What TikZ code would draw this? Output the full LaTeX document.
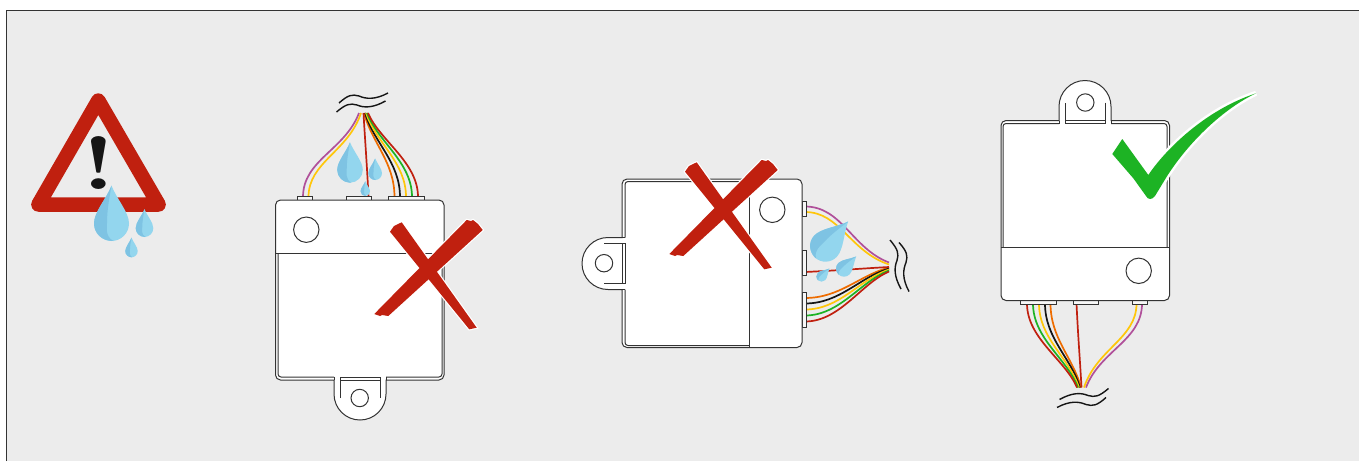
\documentclass[tikz,border=0pt]{standalone}
\usepackage{xcolor}
\usepackage{tikz}
\usetikzlibrary{calc}
\definecolor{panelgrey}{HTML}{ECECEC}
\definecolor{edgedark}{HTML}{333333}
\definecolor{signred}{HTML}{C0200F}
\definecolor{checkgreen}{HTML}{1DB324}
\definecolor{droplight}{HTML}{93D6EE}
\definecolor{dropdark}{HTML}{7EC3E3}
\definecolor{wirepurple}{HTML}{B0509A}
\definecolor{wireyellow}{HTML}{FFC60A}
\definecolor{wireorange}{HTML}{EE6C00}
\definecolor{wiregreen}{HTML}{1DB324}
\definecolor{wireblack}{HTML}{151515}

\begin{document}
\begin{tikzpicture}[
    x=1pt, y=-1pt,
    every node/.style={align=center},
    modline/.style={draw=edgedark, line width=1pt},
    wire/.style={line width=1.7pt},
    breakline/.style={draw=wireblack, line width=1.4pt},
    drop/.pic={
        \fill[droplight] (0,-21.6) .. controls (-3,-14) and (-10,-6.5) .. (-10,0)
            .. controls (-10,5.5) and (-5.5,10) .. (0,10)
            .. controls (5.5,10) and (10,5.5) .. (10,0)
            .. controls (10,-6.5) and (3,-14) .. cycle;
        \fill[dropdark] (0,-21.6) .. controls (-3,-14) and (-10,-6.5) .. (-10,0)
            .. controls (-10,5.5) and (-5.5,10) .. (1,10)
            .. controls (-4,7) and (-2.5,2) .. (-2.5,-2)
            .. controls (-2.5,-8) and (-1,-16) .. cycle;
    },
    module/.pic={
        \foreach \wirex/\lowy/\bendx/\bendy/\endx/\wirecol in {
            303/160/345/150/359/wirepurple,
            308.5/162/348/152/361/wireyellow,
            394.5/162/372/143/364/wireorange,
            400/162/374/143/365/wireblack,
            406/162/376/143/366/wireyellow,
            412/162/378/142/367/wiregreen,
            418/162/380/141/368/signred}
            \draw[wire, \wirecol] (\wirex,197) .. controls (\wirex,\lowy) and (\bendx,\bendy) .. (\endx,113);
        \draw[wire, signred] (368.5,197) .. controls (367,165) and (365,140) .. (363.5,113);
        \foreach \plugl/\plugr in {297.7/312.7, 346.7/371.7, 388.7/424.3}
            \draw[modline, fill=panelgrey!40] (\plugl,200) rectangle (\plugr,196);
        \draw[modline, fill=white] (334,394) -- (334,380) [rounded corners=5pt] -- (275.5,380) -- (275.5,200)
            -- (444,200) -- (444,380) [sharp corners] -- (386,380) -- (386,394)
            arc[start angle=0, end angle=-180, radius=26pt] -- cycle;
        \draw[draw=white, line width=1.4pt] (335,380) -- (339,380) (381,380) -- (385,380);
        \draw[modline, rounded corners=3pt] (334,377) -- (278,377) -- (278,253);
        \draw[modline, rounded corners=3pt] (442,253) -- (442,377) -- (386,377);
        \draw[modline] (275.5,253) -- (444,253);
        \draw[modline] (340,398) -- (340,377) -- (380,377) -- (380,398);
        \draw[modline] (340,380) -- (380,380);
        \draw[modline] (334,380) -- (334,377) (386,380) -- (386,377);
        \draw[modline] (306.3,229.7) circle[radius=12.7pt];
        \draw[modline] (359.7,398) circle[radius=8.7pt];
        \draw[breakline] (339,103) .. controls (348,95) and (352,94) .. (359,96)
            .. controls (366,99) and (375,100) .. (388,93);
        \draw[breakline] (336.5,112) .. controls (346,104) and (350,103) .. (357,105)
            .. controls (364,108) and (373,108) .. (385.5,101);
    },
    crossmark/.pic={
        \draw[white, line width=2.4pt] (466.7,220) -- (471,221) -- (473,220) -- (478,224) -- (482.7,230)
            -- (388.3,316) -- (382,315) -- (380,316) -- (374.3,314) -- cycle
            (390,231.7) -- (394,226) -- (401.7,222.3) -- (476.7,327.7) -- (469.3,329.3) -- cycle;
        \fill[signred] (466.7,220) -- (471,221) -- (473,220) -- (478,224) -- (482.7,230)
            -- (388.3,316) -- (382,315) -- (380,316) -- (374.3,314) -- cycle
            (390,231.7) -- (394,226) -- (401.7,222.3) -- (476.7,327.7) -- (469.3,329.3) -- cycle;
    }
]
    \useasboundingbox (0,0) rectangle (1359,461);
    \fill[white] (0,0) rectangle (1359,461);
    \fill[panelgrey] (6.5,10.5) rectangle (1359,461);
    \draw[draw=edgedark, line width=0.9pt] (6.5,461) -- (6.5,10.5) -- (1359,10.5);

    \draw[signred, line width=14.5pt, line join=round] (98.3,100.5) -- (38.4,204.5) -- (158.6,204.5) -- cycle;
    \node[anchor=base, inner sep=0pt, text=wireblack, transform shape, xscale=1.35, font=\bfseries\fontsize{75}{75}\selectfont] (warnmark) at (99,189.5) {!};
    \pic[scale=1.75] at (111.5,223.5) {drop};
    \pic[scale=0.88] at (144.5,228.2) {drop};
    \pic[scale=0.62] at (131.5,251.1) {drop};

    \pic at (0,0) {module};
    \pic[scale=1.28] at (350,169.9) {drop};
    \pic[scale=0.68] at (375.2,173.2) {drop};
    \pic[scale=0.47] at (365.3,191.3) {drop};
    \pic at (0,0) {crossmark};

    \pic[rotate=-90] at (1002,-96.5) {module};
    \pic[scale=1.55, rotate=-42.6] at (825.5,246.2) {drop};
    \pic[scale=0.8, rotate=-45] at (844,268.7) {drop};
    \pic[scale=0.52, rotate=-45] at (821.5,276.5) {drop};
    \pic at (295,-60) {crossmark};

    \pic[rotate=180] at (1445,500.5) {module};
    \draw[white, line width=5pt] (1122.3,139) -- (1148.3,175)
        .. controls (1165,150) and (1205,110) .. (1256,93.3)
        .. controls (1225,108) and (1190,140) .. (1166.7,176.7) -- (1155,196)
        .. controls (1152,200) and (1148,200) .. (1146,196) -- (1133.3,178.3) -- (1112.3,154) -- cycle;
    \fill[checkgreen] (1122.3,139) -- (1148.3,175)
        .. controls (1165,150) and (1205,110) .. (1256,93.3)
        .. controls (1225,108) and (1190,140) .. (1166.7,176.7) -- (1155,196)
        .. controls (1152,200) and (1148,200) .. (1146,196) -- (1133.3,178.3) -- (1112.3,154) -- cycle;
\end{tikzpicture}
\end{document}
